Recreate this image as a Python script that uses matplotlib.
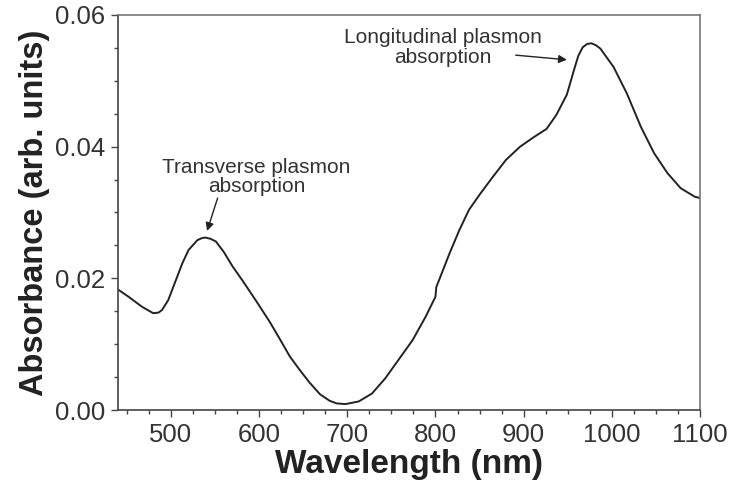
import matplotlib
matplotlib.use("Agg")
import matplotlib.pyplot as plt
from matplotlib.ticker import MultipleLocator

plt.rcParams['font.family'] = ['Liberation Sans', 'DejaVu Sans']

wavelength = [440, 452, 467, 480, 486, 490, 497, 505, 513, 520, 530, 535, 539, 545, 551, 560,
              570, 581, 597, 612, 623, 635, 646, 657, 669, 680, 688, 698, 713, 728, 743, 758,
              774, 789, 800, 801, 804, 816, 827, 838, 850, 865, 880, 896, 911, 926, 937, 949,
              957, 962, 967, 972, 977, 982, 987, 1002, 1017, 1033, 1048, 1063, 1078, 1094, 1100]
absorbance = [0.0183, 0.0172, 0.0157, 0.0147, 0.0148, 0.0152, 0.0167, 0.0195, 0.0223, 0.0243,
              0.0258, 0.0261, 0.0262, 0.0260, 0.0256, 0.0240, 0.0218, 0.0197, 0.0165, 0.0134,
              0.0109, 0.0081, 0.0061, 0.0042, 0.0024, 0.0014, 0.0010, 0.0009, 0.0013, 0.0025,
              0.0048, 0.0076, 0.0106, 0.0142, 0.0172, 0.0187, 0.0197, 0.0238, 0.0273, 0.0304,
              0.0327, 0.0354, 0.0380, 0.0400, 0.0414, 0.0427, 0.0448, 0.0479, 0.0516, 0.0538,
              0.0551, 0.0556, 0.0557, 0.0554, 0.0549, 0.0521, 0.0481, 0.0430, 0.0390, 0.0360,
              0.0337, 0.0324, 0.0322]

fig = plt.figure(figsize=(7.4, 4.96), dpi=100)
ax = fig.add_axes([118/740, 1 - 410/496, (700-118)/740, (410-15)/496])

ax.plot(wavelength, absorbance, color='#222222', lw=1.4, solid_joinstyle='round')

ax.set_xlim(440, 1100)
ax.set_ylim(0, 0.06)
ax.xaxis.set_major_locator(MultipleLocator(100))
ax.xaxis.set_minor_locator(MultipleLocator(25))
ax.yaxis.set_major_locator(MultipleLocator(0.02))
ax.yaxis.set_minor_locator(MultipleLocator(0.005))
ax.yaxis.set_major_formatter(plt.FuncFormatter(lambda v, p: f"{v:.2f}"))

ax.tick_params(which='major', direction='out', length=5, width=1, colors='#444444',
               labelsize=18.5, labelcolor='#333333', pad=4)
ax.tick_params(which='minor', direction='out', length=3, width=1, colors='#444444')
for s in ax.spines.values():
    s.set_color('#777777')
    s.set_linewidth(1.2)
ax.spines['left'].set_color('#444444')
ax.spines['bottom'].set_color('#444444')

ax.set_xlabel('Wavelength (nm)', fontsize=24, fontweight='bold', color='#222222', labelpad=2)
ax.set_ylabel('Absorbance (arb. units)', fontsize=23.5, fontweight='bold', color='#222222', labelpad=4)

ax.annotate('Transverse plasmon\nabsorption', xy=(541, 0.0272), xytext=(597, 0.0354),
            ha='center', va='center', fontsize=15, color='#333333', linespacing=1.05)
ax.annotate('', xy=(541, 0.0272), xytext=(553, 0.0322),
            arrowprops=dict(arrowstyle='-|>', color='#222222', lw=1.0,
                            shrinkA=0, shrinkB=0, mutation_scale=12))
ax.annotate('Longitudinal plasmon\nabsorption', xy=(949, 0.0532), xytext=(808, 0.0551),
            ha='center', va='center', fontsize=15, color='#333333', linespacing=1.05)
ax.annotate('', xy=(949, 0.0532), xytext=(891, 0.0539),
            arrowprops=dict(arrowstyle='-|>', color='#222222', lw=1.0,
                            shrinkA=0, shrinkB=0, mutation_scale=12))

fig.savefig('out.png', dpi=100)
